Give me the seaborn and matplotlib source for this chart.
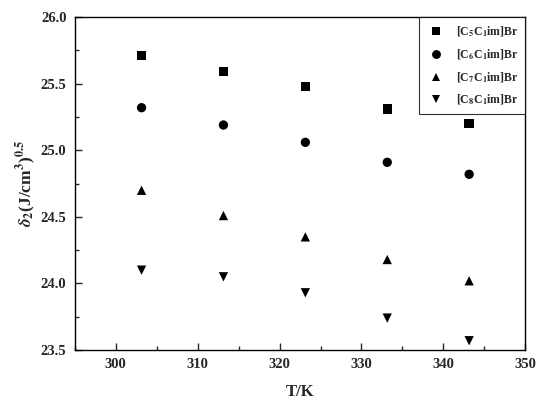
import pandas as pd
import numpy as np
import matplotlib
matplotlib.use("Agg")
import matplotlib.pyplot as plt
import seaborn as sns
from matplotlib.ticker import MultipleLocator, AutoMinorLocator

temps = [303.15, 313.15, 323.15, 333.15, 343.15]
c5 = [25.71, 25.59, 25.48, 25.31, 25.20]
c6 = [25.32, 25.19, 25.06, 24.91, 24.82]
c7 = [24.70, 24.51, 24.35, 24.18, 24.02]
c8 = [24.10, 24.05, 23.93, 23.74, 23.57]
names = [r"[C$_\mathbf{5}$C$_\mathbf{1}$im]Br", r"[C$_\mathbf{6}$C$_\mathbf{1}$im]Br",
         r"[C$_\mathbf{7}$C$_\mathbf{1}$im]Br", r"[C$_\mathbf{8}$C$_\mathbf{1}$im]Br"]

sns.set_style("ticks")
plt.rcParams['font.family'] = ['Liberation Serif', 'DejaVu Serif']
plt.rcParams['font.weight'] = 'bold'
plt.rcParams['mathtext.fontset'] = 'stix'
plt.rcParams['xtick.direction'] = 'in'
plt.rcParams['ytick.direction'] = 'in'

df = pd.DataFrame({
    "T": temps * 4,
    "delta": c5 + c6 + c7 + c8,
    "IL": [n for n in names for _ in temps],
})

fig = plt.figure(figsize=(5.5, 4.08), dpi=100)
ax = fig.add_axes([0.136, 0.142, 0.819, 0.816])
markers = dict(zip(names, ["s", "o", "^", "v"]))
sns.scatterplot(data=df, x="T", y="delta", style="IL", markers=markers,
                color="black", s=45, edgecolor="black", linewidth=0, ax=ax)

ax.set_xlim(295, 350)
ax.set_ylim(23.5, 26.0)
ax.xaxis.set_major_locator(MultipleLocator(10))
ax.yaxis.set_major_locator(MultipleLocator(0.5))
ax.xaxis.set_minor_locator(AutoMinorLocator(2))
ax.yaxis.set_minor_locator(AutoMinorLocator(2))
ax.tick_params(which="major", length=5, width=1, labelsize=10.5, pad=6)
ax.tick_params(which="minor", length=3, width=1)
for lab in ax.get_xticklabels() + ax.get_yticklabels():
    lab.set_fontweight("bold")
for sp in ax.spines.values():
    sp.set_linewidth(1.0)
    sp.set_color("black")

ax.set_xlabel("T/K", fontsize=12, fontweight="bold", labelpad=9)
ax.set_ylabel(r"$\delta_\mathbf{2}$(J/cm$^\mathbf{3}$)$^\mathbf{0.5}$", fontsize=12.5,
              fontweight="bold", labelpad=2)

leg = ax.legend(loc="upper right", fontsize=8.5, frameon=True, fancybox=False,
                edgecolor="black", borderaxespad=0, handletextpad=0.9,
                handlelength=1.6, labelspacing=0.7, borderpad=0.6, markerscale=0.95)
leg.get_frame().set_linewidth(0.8)
for t in leg.get_texts():
    t.set_fontweight("bold")

fig.savefig("out.png", dpi=100)
